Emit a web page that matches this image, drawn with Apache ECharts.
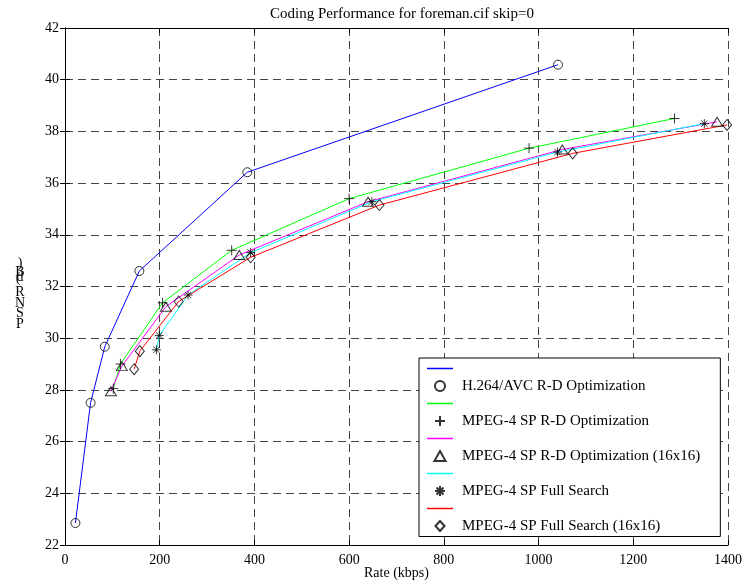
<!DOCTYPE html>
<html>
<head>
<meta charset="utf-8" />
<title>Coding Performance for foreman.cif skip=0</title>
<script src="https://cdn.jsdelivr.net/npm/echarts@6/dist/echarts.min.js"></script>
<style>
	html, body { margin: 0; padding: 0; background: #fff; }
	#main { width: 742px; height: 583px; }
</style>
</head>
<body>
<div id="main"></div>
<script type="text/javascript">
	// Rate (kbps) / PSNR (dB) points
	var h264 = [[22, 22.85], [54, 27.5], [84, 29.67], [157, 32.6], [385, 36.42], [1041, 40.58]];
	var rdOpt = [[102, 28.05], [117, 29.0], [206, 31.37], [352, 33.4], [600, 35.4], [980, 37.35], [1287, 38.5]];
	var rdOpt16 = [[97, 27.95], [120, 28.92], [213, 31.22], [368, 33.22], [640, 35.28], [1050, 37.3], [1377, 38.37]];
	var fullSearch = [[193, 29.55], [199, 30.1], [260, 31.67], [392, 33.31], [648, 35.28], [1040, 37.2], [1350, 38.3]];
	var fullSearch16 = [[146, 28.8], [158, 29.5], [240, 31.42], [392, 33.13], [664, 35.15], [1072, 37.15], [1398, 38.25]];

	var names = ['H.264/AVC R-D Optimization', 'MPEG-4 SP R-D Optimization', 'MPEG-4 SP R-D Optimization (16x16)',
		'MPEG-4 SP Full Search', 'MPEG-4 SP Full Search (16x16)'];
	var lineNames = [' ', '  ', '   ', '    ', '     '];
	var colors = ['#0000ff', '#00ff00', '#ff00ff', '#00ffff', '#ff0000'];
	var symbols = ['circle', 'path://M5 0L5 10M0 5L10 5', 'path://M5 0L10 9L0 9Z',
		'path://M5 0L5 10M0 5L10 5M1.5 1.5L8.5 8.5M8.5 1.5L1.5 8.5', 'path://M5 0L10 5.5L5 11L0 5.5Z'];
	var symbolSizes = [9, 10, [11, 10], 9, [10, 11]];
	var allData = [h264, rdOpt, rdOpt16, fullSearch, fullSearch16];

	var serif = 'Liberation Serif';
	// thin line for the legend, padded to the full icon box
	var lineIcon = 'path://M0 0H26V0.01H0Z M0 4.25H26V5.75H0Z M0 9.99H26V10H0Z';

	var myChart = echarts.init(document.getElementById('main'));

	var series = [];
	var legendData = [];
	for (var i = 0; i < allData.length; i++) {
		// 线
		series.push({
			name: lineNames[i],
			type: 'line',
			data: allData[i],
			symbol: 'none',
			lineStyle: { color: colors[i], width: 1 },
			itemStyle: { color: colors[i] },
			z: 2
		});
		// 标记
		series.push({
			name: names[i],
			type: 'scatter',
			data: allData[i],
			symbol: symbols[i],
			symbolSize: symbolSizes[i],
			symbolKeepAspect: true,
			itemStyle: { color: 'rgba(0,0,0,0)', borderColor: '#000', borderWidth: 1 },
			z: 3
		});
		legendData.push({ name: lineNames[i], icon: lineIcon, itemStyle: { color: colors[i], borderWidth: 0 } });
		legendData.push({ name: names[i] });
	}

	// y axis label, printed garbled in the original
	var yChars = [[')', 20, 263], ['B', 20, 272], ['d', 20, 277], ['(', 18, 278], ['R', 20, 292],
		['N', 20, 303], ['S', 20, 313], ['P', 20, 324]];
	var graphic = yChars.map(function (c) {
		return {
			type: 'text', x: c[1], y: c[2],
			style: { text: c[0], fill: '#000', font: '14px ' + serif, textAlign: 'center', textVerticalAlign: 'middle' }
		};
	});

	var axisCommon = {
		type: 'value',
		axisLine: { show: true, lineStyle: { color: '#000', width: 1 } },
		axisTick: { show: true, inside: true, length: 5, lineStyle: { color: '#000' } }
	};
	var plain = function (v) { return String(v); };

	var option = {
		animation: false,
		title: {
			text: 'Coding Performance for foreman.cif skip=0',
			left: 397, top: 2, textAlign: 'center',
			textStyle: { fontFamily: serif, fontSize: 15, fontWeight: 'normal', color: '#000' }
		},
		grid: { left: 65, right: 14, top: 28, bottom: 38, outerBoundsMode: 'none', containLabel: false },
		legend: {
			data: legendData,
			orient: 'vertical',
			left: 419, top: 358,
			padding: [3, 20, 3, 8],
			itemWidth: 26, itemHeight: 10, itemGap: 2.5,
			borderColor: '#000', borderWidth: 1,
			backgroundColor: '#fff',
			selectedMode: false,
			textStyle: { fontFamily: serif, fontSize: 15, color: '#000', padding: [0, 0, 0, 4] }
		},
		graphic: graphic,
		xAxis: [
			Object.assign({}, axisCommon, {
				min: 0, max: 1400, interval: 200,
				name: 'Rate (kbps)', nameLocation: 'middle', nameGap: 21, nameMoveOverlap: false,
				nameTextStyle: { fontFamily: serif, fontSize: 14, color: '#000' },
				axisLabel: { margin: 8, fontFamily: serif, fontSize: 14, color: '#000', formatter: plain },
				splitLine: { show: true, lineStyle: { color: '#444', type: [8, 5], width: 1 } }
			}),
			Object.assign({}, axisCommon, {
				position: 'top', min: 0, max: 1400, interval: 200,
				axisLabel: { show: false }, splitLine: { show: false }
			})
		],
		yAxis: [
			Object.assign({}, axisCommon, {
				min: 22, max: 42, interval: 2,
				axisLabel: { margin: 6, fontFamily: serif, fontSize: 14, color: '#000', formatter: plain },
				splitLine: { show: true, lineStyle: { color: '#444', type: [8, 5], width: 1 } }
			}),
			Object.assign({}, axisCommon, {
				position: 'right', min: 22, max: 42, interval: 2,
				axisLabel: { show: false }, splitLine: { show: false }
			})
		],
		series: series
	};
	myChart.setOption(option);
</script>
</body>
</html>
